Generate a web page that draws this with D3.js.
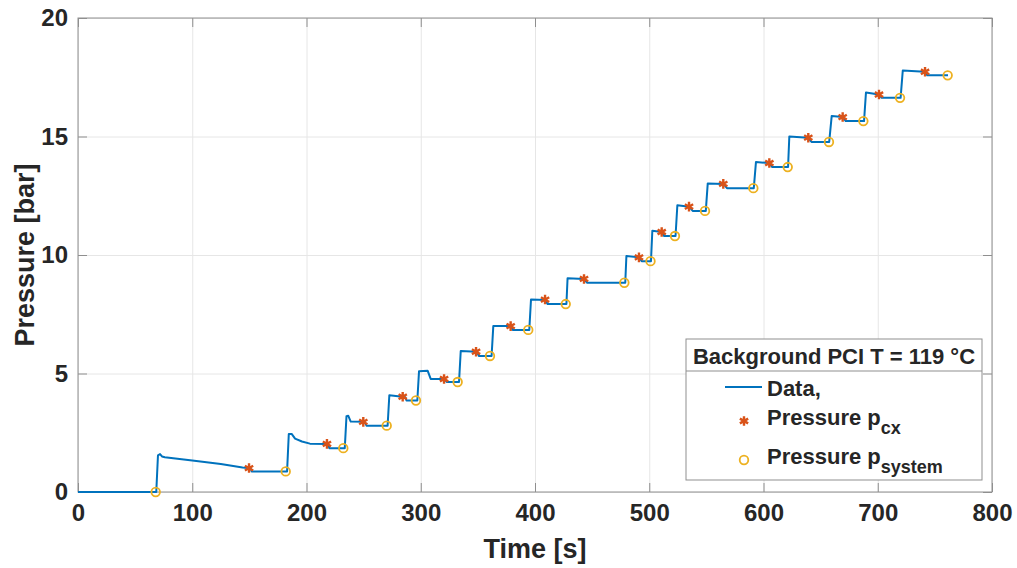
<!DOCTYPE html>
<html>
<head>
<meta charset="utf-8">
<script src="https://cdn.jsdelivr.net/npm/d3@7"></script>
<style>
  html, body { margin: 0; padding: 0; background: #fff; }
  svg text { font-family: "Liberation Sans", Arial, sans-serif; font-weight: bold; fill: #262626; }
</style>
</head>
<body>
<div id="chart"></div>
<script>
// Measured pressure trace [time s, pressure bar]
const dataTime = [0, 68.5, 70, 71.8, 73.5, 76, 100, 125, 144, 151, 152, 183,
  184.5, 187, 190, 196, 203, 219, 220, 233.5,
  235, 236.5, 238.7, 251, 252.5, 271,
  272.5, 284, 286.5, 287.5, 297,
  298.5, 306, 308.7, 321, 322.7, 333.5,
  335, 349, 351, 362,
  363.5, 379, 380.5, 395,
  396.5, 409, 411, 427.5,
  428.5, 443, 445.5, 479,
  480, 491, 493.4, 501.5,
  502.7, 511, 513, 523,
  524.6, 535, 538, 549.5,
  551.2, 565, 568, 591.5,
  593.4, 605, 607.7, 621.5,
  622.6, 639, 642, 657.5,
  659.7, 669.5, 672, 688,
  689.7, 701, 703.5, 720,
  721.9, 741, 743.4, 761.5];
const dataPressure = [0, 0, 1.55, 1.6, 1.5, 1.47, 1.33, 1.18, 1.03, 1.0, 0.87, 0.87,
  2.45, 2.45, 2.25, 2.13, 2.04, 2.03, 1.85, 1.85,
  3.2, 3.22, 2.97, 2.96, 2.8, 2.8,
  4.08, 4.02, 4.0, 3.86, 3.86,
  5.1, 5.12, 4.77, 4.77, 4.64, 4.64,
  5.95, 5.92, 5.74, 5.74,
  7.0, 7.0, 6.84, 6.84,
  8.12, 8.1, 7.93, 7.93,
  9.02, 8.99, 8.83, 8.83,
  9.96, 9.9, 9.74, 9.74,
  11.02, 10.97, 10.8, 10.8,
  12.1, 12.04, 11.86, 11.86,
  13.02, 13.0, 12.82, 12.82,
  13.92, 13.88, 13.71, 13.71,
  15.0, 14.95, 14.77, 14.77,
  15.87, 15.82, 15.65, 15.65,
  16.86, 16.77, 16.63, 16.63,
  17.78, 17.73, 17.58, 17.58];

// Pressure p_cx (stars)
const cxTime = [149.7, 217.9, 249.7, 284.2, 320.4, 348.4, 378.7, 408.8, 442.9, 491.0,
  510.9, 534.8, 564.8, 605.1, 639.2, 669.3, 701.1, 741.4];
const cxPressure = [1.01, 2.03, 2.96, 4.02, 4.77, 5.92, 7.0, 8.12, 8.99, 9.9,
  10.97, 12.04, 13.0, 13.88, 14.95, 15.82, 16.77, 17.73];

// Pressure p_system (circles)
const sysTime = [68.0, 181.8, 232.2, 270.2, 295.8, 332.3, 360.6, 394.1, 426.9, 478.2,
  501.1, 522.5, 548.8, 591.1, 621.2, 657.3, 687.4, 719.5, 761.2];
const sysPressure = [0, 0.87, 1.85, 2.8, 3.86, 4.64, 5.74, 6.84, 7.93, 8.83,
  9.74, 10.8, 11.86, 12.82, 13.71, 14.77, 15.65, 16.63, 17.58];

const xTicks = [0, 100, 200, 300, 400, 500, 600, 700, 800];
const yTicks = [0, 5, 10, 15, 20];

const colors = { line: '#0072BD', cx: '#D95319', sys: '#EDB120', box: '#8f8f8f', grid: '#e6e6e6' };

const width = 1017, height = 568;
const margin = { left: 78, top: 18, right: 25, bottom: 76 };
const plotW = width - margin.left - margin.right;
const plotH = height - margin.top - margin.bottom;

const svg = d3.select('#chart').append('svg')
  .attr('width', width).attr('height', height);

const x = d3.scaleLinear().domain([0, 800]).range([margin.left, margin.left + plotW]);
const y = d3.scaleLinear().domain([0, 20]).range([margin.top + plotH, margin.top]);

// Grid
svg.append('g')
  .attr('transform', `translate(0,${margin.top + plotH})`)
  .call(d3.axisBottom(x).tickValues(xTicks).tickSize(-plotH).tickFormat(''))
  .call(g => g.select('.domain').remove())
  .call(g => g.selectAll('line').attr('stroke', colors.grid));
svg.append('g')
  .attr('transform', `translate(${margin.left},0)`)
  .call(d3.axisLeft(y).tickValues(yTicks).tickSize(-plotW).tickFormat(''))
  .call(g => g.select('.domain').remove())
  .call(g => g.selectAll('line').attr('stroke', colors.grid));

// Axes box
svg.append('rect')
  .attr('x', margin.left).attr('y', margin.top)
  .attr('width', plotW).attr('height', plotH)
  .attr('fill', 'none').attr('stroke', colors.box).attr('stroke-width', 1);

// Ticks and labels
const styleTicks = g => {
  g.select('.domain').remove();
  g.selectAll('.tick line').attr('stroke', colors.box);
};
const xAxis = svg.append('g')
  .attr('transform', `translate(0,${margin.top + plotH})`)
  .call(d3.axisBottom(x).tickValues(xTicks).tickSizeInner(-9).tickSizeOuter(0).tickPadding(12))
  .call(styleTicks);
const yAxis = svg.append('g')
  .attr('transform', `translate(${margin.left},0)`)
  .call(d3.axisLeft(y).tickValues(yTicks).tickSizeInner(-9).tickSizeOuter(0).tickPadding(10))
  .call(styleTicks);
svg.append('g')
  .attr('transform', `translate(0,${margin.top})`)
  .call(d3.axisTop(x).tickValues(xTicks).tickSizeInner(-9).tickSizeOuter(0).tickFormat(''))
  .call(styleTicks);
svg.append('g')
  .attr('transform', `translate(${margin.left + plotW},0)`)
  .call(d3.axisRight(y).tickValues(yTicks).tickSizeInner(-9).tickSizeOuter(0).tickFormat(''))
  .call(styleTicks);

[xAxis, yAxis].forEach(a => a.selectAll('text')
  .attr('font-size', 24).attr('font-family', '"Liberation Sans", Arial, sans-serif')
  .attr('font-weight', 'bold').attr('fill', '#262626'));

// Data line
const pts = dataTime.map((t, i) => [t, dataPressure[i]]);
svg.append('path')
  .datum(pts)
  .attr('fill', 'none')
  .attr('stroke', colors.line)
  .attr('stroke-width', 2)
  .attr('stroke-linejoin', 'round')
  .attr('d', d3.line().x(d => x(d[0])).y(d => y(d[1])));

// Markers
const star = d3.symbol().type(d3.symbolAsterisk).size(64);
svg.append('g').selectAll('path')
  .data(cxTime.map((t, i) => [t, cxPressure[i]]))
  .enter().append('path')
  .attr('d', star)
  .attr('transform', d => `translate(${x(d[0])},${y(d[1])})`)
  .attr('fill', 'none')
  .attr('stroke', colors.cx)
  .attr('stroke-width', 2.4);

svg.append('g').selectAll('circle')
  .data(sysTime.map((t, i) => [t, sysPressure[i]]))
  .enter().append('circle')
  .attr('cx', d => x(d[0]))
  .attr('cy', d => y(d[1]))
  .attr('r', 4.3)
  .attr('fill', 'none')
  .attr('stroke', colors.sys)
  .attr('stroke-width', 1.8);

// Axis titles
svg.append('text')
  .attr('x', margin.left + plotW / 2).attr('y', 558)
  .attr('text-anchor', 'middle').attr('font-size', 27)
  .text('Time [s]');
svg.append('text')
  .attr('transform', `translate(34,${margin.top + plotH / 2}) rotate(-90)`)
  .attr('text-anchor', 'middle').attr('font-size', 27)
  .text('Pressure [bar]');

// Legend
const lg = svg.append('g');
lg.append('rect')
  .attr('x', 686).attr('y', 339).attr('width', 296).attr('height', 141)
  .attr('fill', '#fff').attr('stroke', colors.box).attr('stroke-width', 1);
lg.append('line')
  .attr('x1', 686).attr('x2', 982).attr('y1', 371).attr('y2', 371)
  .attr('stroke', colors.box);
lg.append('text')
  .attr('x', 834).attr('y', 364).attr('text-anchor', 'middle').attr('font-size', 22)
  .text('Background PCI T = 119 °C');

lg.append('line')
  .attr('x1', 725).attr('x2', 762).attr('y1', 387).attr('y2', 387)
  .attr('stroke', colors.line).attr('stroke-width', 2);
lg.append('text').attr('x', 767).attr('y', 396).attr('font-size', 22).text('Data,');

lg.append('path').attr('d', star)
  .attr('transform', 'translate(744,421)')
  .attr('fill', 'none').attr('stroke', colors.cx).attr('stroke-width', 2.4);
const t1 = lg.append('text').attr('x', 767).attr('y', 425).attr('font-size', 22);
t1.append('tspan').text('Pressure p');
t1.append('tspan').attr('font-size', 18).attr('dy', 9).text('cx');

lg.append('circle').attr('cx', 744).attr('cy', 460).attr('r', 4.3)
  .attr('fill', 'none').attr('stroke', colors.sys).attr('stroke-width', 1.8);
const t2 = lg.append('text').attr('x', 767).attr('y', 464).attr('font-size', 22);
t2.append('tspan').text('Pressure p');
t2.append('tspan').attr('font-size', 18).attr('dy', 9).text('system');
</script>
</body>
</html>
